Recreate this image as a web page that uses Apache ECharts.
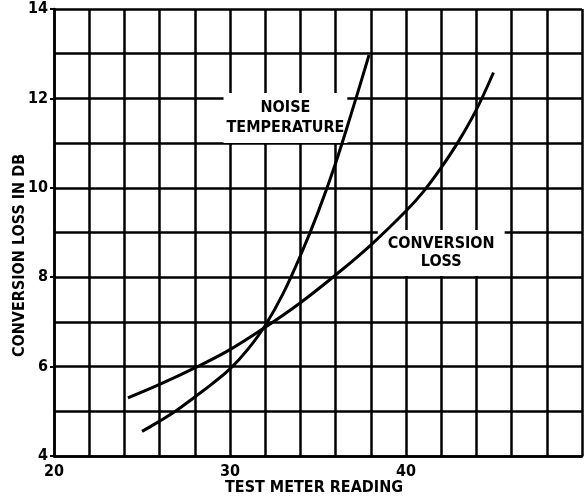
<!DOCTYPE html>
<html>
<head>
<meta charset="utf-8">
<script src="https://cdn.jsdelivr.net/npm/echarts@6/dist/echarts.min.js"></script>
<style>
html,body{margin:0;padding:0;background:#fff;}
#c{width:585px;height:498px;}
</style>
</head>
<body>
<div id="c"></div>
<script>
var xTickLabels = ['20', '30', '40'];
var yTickLabels = ['4', '6', '8', '10', '12', '14'];
var noiseTemperature = [
  [25.0, 4.55], [26.0, 4.78], [27.0, 5.03], [28.0, 5.32], [29.0, 5.62],
  [30.0, 5.95], [31.0, 6.38], [32.0, 6.92], [33.0, 7.62], [34.0, 8.48],
  [35.0, 9.45], [36.0, 10.55], [37.0, 11.8], [37.9, 12.97]
];
var conversionLoss = [
  [24.2, 5.30], [26.0, 5.60], [28.0, 5.97], [30.0, 6.38], [32.0, 6.88],
  [34.0, 7.43], [36.0, 8.05], [38.0, 8.72], [40.0, 9.48], [41.0, 9.92],
  [42.0, 10.45], [43.0, 11.05], [44.0, 11.75], [44.97, 12.58]
];
var curveLabels = ['NOISE\nTEMPERATURE', 'CONVERSION\nLOSS'];
var labelAnchors = [[33.15, 11.56], [42.0, 8.54]];

var FONT = '"Liberation Sans Narrow", "DejaVu Sans Condensed", sans-serif';
var chart = echarts.init(document.getElementById('c'));
var lineStyleGrid = { color: '#000', width: 2.5 };

chart.setOption({
  backgroundColor: '#fff',
  animation: false,
  grid: { left: 54, right: -8.5, top: 9, bottom: 42, containLabel: false },
  xAxis: {
    type: 'value', min: 20, max: 50, interval: 2,
    axisLine: { show: true, lineStyle: lineStyleGrid },
    axisTick: { show: false },
    splitLine: { show: true, lineStyle: lineStyleGrid },
    axisLabel: {
      margin: 8, color: '#000', fontFamily: FONT, fontWeight: 'bold', fontSize: 16,
      formatter: function (v) { return xTickLabels.indexOf(String(v)) >= 0 ? String(v) : ''; }
    }
  },
  yAxis: [
    {
      type: 'value', min: 4, max: 14, interval: 1,
      axisLine: { show: true, lineStyle: lineStyleGrid },
      axisTick: { show: false },
      splitLine: { show: true, lineStyle: lineStyleGrid },
      axisLabel: { show: false }
    },
    {
      type: 'value', min: 4, max: 14, interval: 2, position: 'left',
      axisLine: { show: false },
      axisTick: { show: true, length: 4, lineStyle: { color: '#000', width: 2 } },
      splitLine: { show: false },
      axisLabel: {
        margin: 6, color: '#000', fontFamily: FONT, fontWeight: 'bold', fontSize: 16,
        formatter: function (v) { return yTickLabels.indexOf(String(v)) >= 0 ? String(v) : ''; }
      }
    }
  ],
  graphic: [
    {
      type: 'text', left: 225, top: 480,
      style: { text: 'TEST METER READING', fill: '#000', font: 'bold 16px ' + FONT }
    },
    {
      type: 'text', rotation: Math.PI / 2, x: 12, y: 357,
      style: { text: 'CONVERSION LOSS IN DB', fill: '#000', font: 'bold 16px ' + FONT }
    }
  ],
  series: [
    {
      type: 'line', name: 'Noise temperature', data: noiseTemperature, yAxisIndex: 0,
      smooth: 0.4, showSymbol: false, z: 5,
      lineStyle: { color: '#000', width: 3 },
      markPoint: {
        symbol: 'circle', symbolSize: 0,
        label: {
          show: true, position: 'inside', formatter: curveLabels[0],
          color: '#000', fontFamily: FONT, fontWeight: 'bold', fontSize: 16, lineHeight: 20,
          backgroundColor: '#fff', padding: [5, 3, 5, 3], align: 'center'
        },
        data: [{ coord: labelAnchors[0] }]
      }
    },
    {
      type: 'line', name: 'Conversion loss', data: conversionLoss, yAxisIndex: 0,
      smooth: 0.4, showSymbol: false, z: 5,
      lineStyle: { color: '#000', width: 3 },
      markPoint: {
        symbol: 'circle', symbolSize: 0,
        label: {
          show: true, position: 'inside', formatter: curveLabels[1],
          color: '#000', fontFamily: FONT, fontWeight: 'bold', fontSize: 16, lineHeight: 18,
          backgroundColor: '#fff', padding: [5, 10, 5, 10], align: 'center'
        },
        data: [{ coord: labelAnchors[1] }]
      }
    }
  ]
});
</script>
</body>
</html>
